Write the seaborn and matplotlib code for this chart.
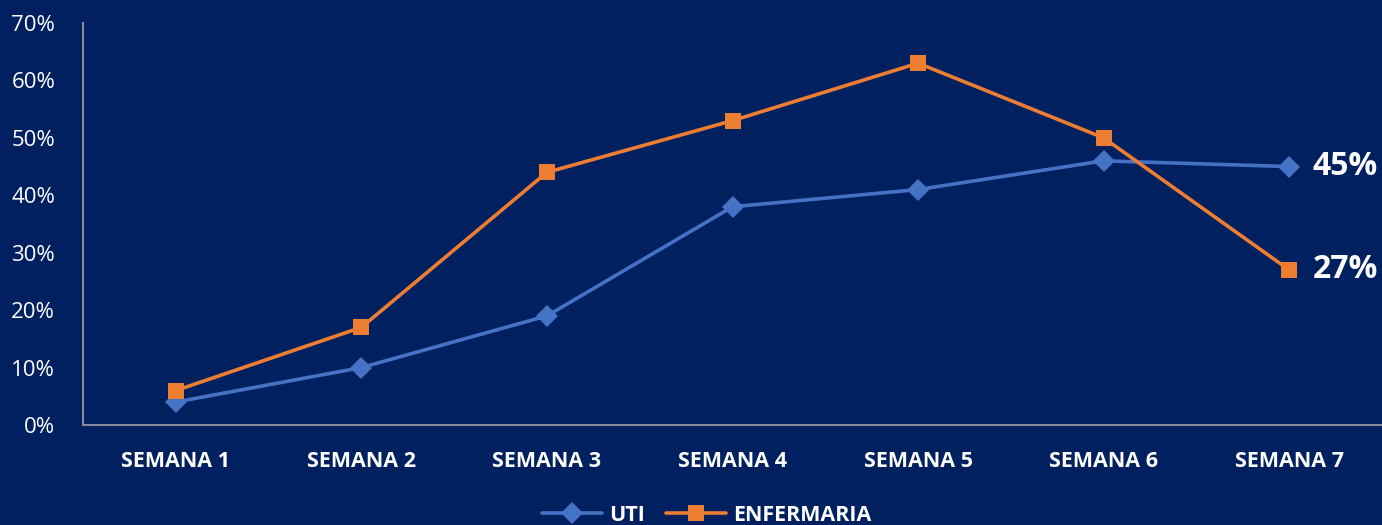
import pandas as pd
import matplotlib.pyplot as plt
import seaborn as sns
from matplotlib.ticker import PercentFormatter

# Chart data
semanas = ['SEMANA 1', 'SEMANA 2', 'SEMANA 3', 'SEMANA 4', 'SEMANA 5', 'SEMANA 6', 'SEMANA 7']
uti = [0.04, 0.10, 0.19, 0.38, 0.41, 0.46, 0.45]
enfermaria = [0.06, 0.17, 0.44, 0.53, 0.63, 0.50, 0.27]

df = pd.DataFrame({
    'semana': semanas * 2,
    'valor': uti + enfermaria,
    'serie': ['UTI'] * len(semanas) + ['ENFERMARIA'] * len(semanas),
})

bg = '#002060'
sns.set_theme(style='white')
plt.rcParams['font.family'] = ['Open Sans', 'DejaVu Sans']

fig = plt.figure(figsize=(13.82, 5.25), dpi=100, facecolor=bg)
ax = fig.add_axes([83 / 1382, 100 / 525, 1 - 83 / 1382, 402 / 525])
ax.set_facecolor(bg)

sns.lineplot(data=df, x='semana', y='valor', hue='serie', style='serie',
             palette={'UTI': '#4472C4', 'ENFERMARIA': '#ED7D31'},
             markers={'UTI': 'D', 'ENFERMARIA': 's'}, dashes=False,
             markersize=11, linewidth=2.6, markeredgewidth=0, sort=False, ax=ax)

ax.set_xlim(-0.5, len(semanas) - 0.5)
ax.set_ylim(0, 0.70)
ax.set_yticks([i / 10 for i in range(8)])
ax.yaxis.set_major_formatter(PercentFormatter(1.0, decimals=0))
ax.tick_params(axis='y', colors='white', labelsize=16, length=0, pad=20)
ax.tick_params(axis='x', colors='white', labelsize=15.5, length=0, pad=19)
for lbl in ax.get_xticklabels():
    lbl.set_fontweight('bold')
ax.set_xlabel('')
ax.set_ylabel('')

for side in ['top', 'right']:
    ax.spines[side].set_visible(False)
for side in ['left', 'bottom']:
    ax.spines[side].set_color('#8a8a9a')
    ax.spines[side].set_linewidth(1.5)

# End labels
last = len(semanas) - 1
ax.annotate(f'{uti[-1]:.0%}', (last, uti[-1]), xytext=(17, 0), textcoords='offset points',
            color='white', fontsize=23, fontweight='bold', va='center', ha='left',
            annotation_clip=False)
ax.annotate(f'{enfermaria[-1]:.0%}', (last, enfermaria[-1]), xytext=(17, 0), textcoords='offset points',
            color='white', fontsize=23, fontweight='bold', va='center', ha='left',
            annotation_clip=False)

leg = ax.legend(loc='center', bbox_to_anchor=(0.48, -0.225), ncol=2, frameon=False,
                fontsize=15.5, handlelength=2.8, columnspacing=1.0, handletextpad=0.3)
for t in leg.get_texts():
    t.set_color('white')
    t.set_fontweight('bold')

fig.savefig('out.png', dpi=100, facecolor=bg)
